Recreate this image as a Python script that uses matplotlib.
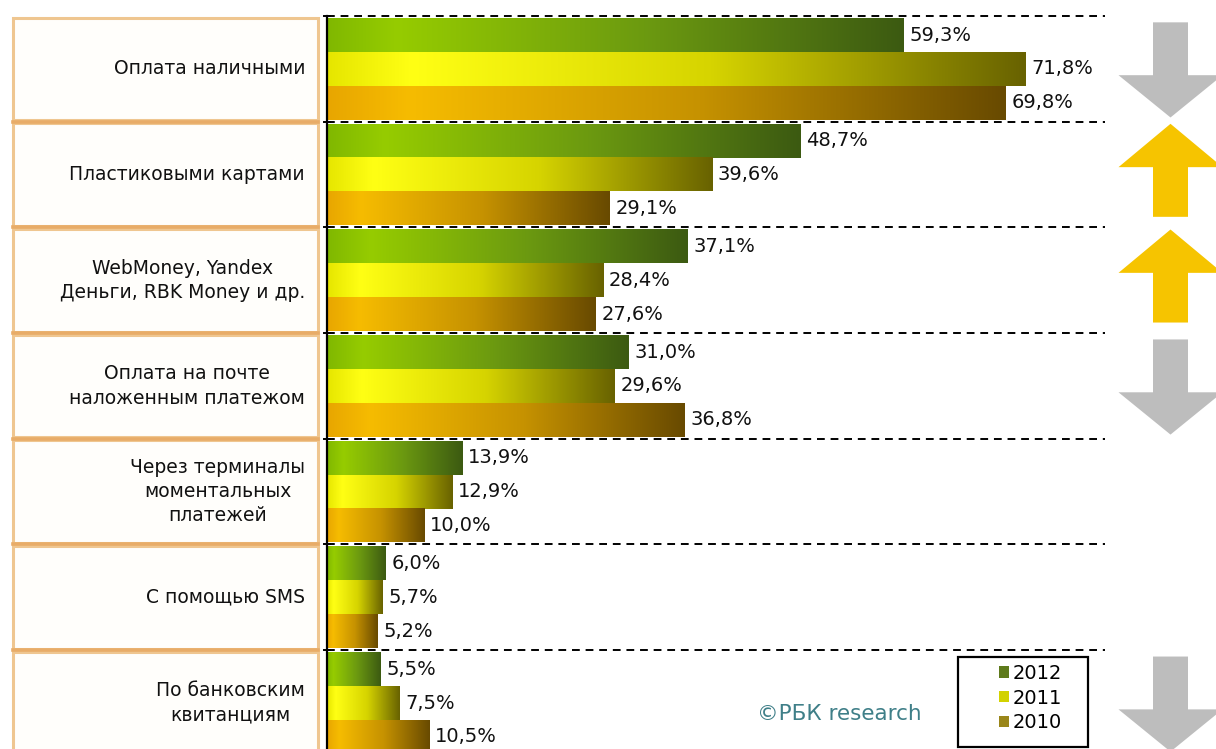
import numpy as np
import matplotlib
matplotlib.use("Agg")
import matplotlib.pyplot as plt
import matplotlib.patches as mpatches
from matplotlib.colors import LinearSegmentedColormap

categories = [
    "Оплата наличными",
    "Пластиковыми картами",
    "WebMoney, Yandex\nДеньги, RBK Money и др.",
    "Оплата на почте\nналоженным платежом",
    "Через терминалы\nмоментальных\nплатежей",
    "С помощью SMS",
    "По банковским\nквитанциям",
]
years = ["2012", "2011", "2010"]
v2012 = [59.3, 48.7, 37.1, 31.0, 13.9, 6.0, 5.5]
v2011 = [71.8, 39.6, 28.4, 29.6, 12.9, 5.7, 7.5]
v2010 = [69.8, 29.1, 27.6, 36.8, 10.0, 5.2, 10.5]
trend = ["down", "up", "up", "down", None, None, "down"]

series = [v2012, v2011, v2010]
ramps = [
    ["#80b800", "#96cc00", "#6c9a10", "#3c5a12"],
    ["#e6e600", "#ffff14", "#d6d400", "#686200"],
    ["#e8a600", "#f6bc00", "#c69200", "#684a00"],
]
legend_cols = ["#5e7a1c", "#d2d200", "#9a861a"]
cmaps = [LinearSegmentedColormap.from_list(y, list(zip([0, 0.12, 0.55, 1], r)))
         for y, r in zip(years, ramps)]

W, H = 1216, 749
fig = plt.figure(figsize=(W / 100, H / 100), dpi=100)
fig.patch.set_facecolor("white")

grp = 105.7
top = 16
n = len(categories)
bot = top + n * grp
rect_y = 1 - bot / H
rect_h = (bot - top) / H

# main bar area
ax = fig.add_axes([327 / W, rect_y, 778 / W, rect_h])
ax.set_xlim(0, 80)
ax.set_ylim(n, 0)
ax.axis("off")

pad = 0.02
bh = (1 - 2 * pad) / 3
grad = np.linspace(0, 1, 256).reshape(1, -1)
for i in range(n):
    for j, vals in enumerate(series):
        v = vals[i]
        y0 = i + pad + j * bh
        ax.imshow(grad, cmap=cmaps[j], aspect="auto", extent=(0, v, y0 + bh, y0),
                  interpolation="bilinear", zorder=2)
        lab = f"{v:.1f}%".replace(".", ",")
        ax.text(v + 0.6, y0 + bh / 2, lab, ha="left", va="center",
                fontsize=14, color="#111111", zorder=4)

for i in range(n):
    ax.plot([0, 80], [i, i], color="black", lw=1.4, ls=(0, (4, 3)), zorder=1,
            clip_on=False)
    ax.plot([-0.35, 0.35], [i, i], color="black", lw=1.4, zorder=3, clip_on=False)
ax.plot([0, 0], [0, n], color="black", lw=1.6, zorder=3, clip_on=False)
ax.set_ylim(n, 0)
ax.set_xlim(0, 80)

# category boxes on the left
axl = fig.add_axes([0, rect_y, 327 / W, rect_h])
axl.set_xlim(0, 327)
axl.set_ylim(n, 0)
axl.axis("off")
for i, c in enumerate(categories):
    axl.add_patch(mpatches.Rectangle((13, i + 0.015), 305, 0.97, facecolor="#fffefb",
                                     edgecolor="#efc690", lw=2.2))
    if i > 0:
        axl.plot([13, 318], [i, i], color="#e8ac68", lw=2.6)
    axl.text(305, i + 0.5, c, ha="right", va="center", multialignment="center",
             fontsize=13.5, color="#111111", linespacing=1.35)

# trend arrows on the right
axa = fig.add_axes([1105 / W, rect_y, 111 / W, rect_h])
axa.set_xlim(1105, 1216)
axa.set_ylim(n, 0)
axa.axis("off")
cx, sw, hw = 1170.5, 17.5, 52
for i, t in enumerate(trend):
    if t == "down":
        a, b, c = i + 0.06, i + 0.56, i + 0.96
        col = "#bdbdbd"
    elif t == "up":
        a, b, c = i + 0.9, i + 0.43, i + 0.02
        col = "#f6c400"
    else:
        continue
    pts = [(cx - sw, a), (cx + sw, a), (cx + sw, b), (cx + hw, b), (cx, c),
           (cx - hw, b), (cx - sw, b)]
    axa.add_patch(mpatches.Polygon(pts, closed=True, facecolor=col, edgecolor="none"))

# legend
handles = [mpatches.Patch(facecolor=c, edgecolor="none", label=y)
           for c, y in zip(legend_cols, years)]
fig.legend(handles=handles, loc="center", frameon=False,
           bbox_to_anchor=((958 + 1088) / 2 / W + 0.006, 1 - 698 / H),
           fontsize=14, handlelength=0.55, handleheight=0.55, handletextpad=0.15,
           labelspacing=0.3, borderpad=0)
fig.add_artist(mpatches.Rectangle((958 / W, 1 - 747 / H), 130 / W, 90 / H,
                                  transform=fig.transFigure, facecolor="none",
                                  edgecolor="black", lw=1.6))

fig.text(757 / W, 1 - 714 / H, "©РБК research", ha="left", va="center",
         fontsize=15.5, color="#3f7f88")

fig.savefig("out.png", dpi=100)
